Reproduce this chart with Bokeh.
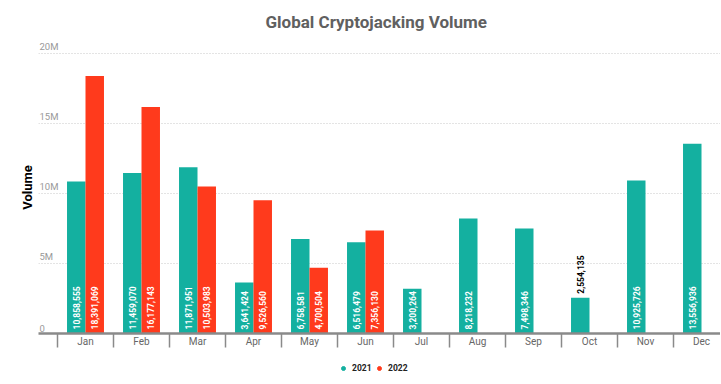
from bokeh.plotting import figure
from bokeh.layouts import column
from bokeh.models import (ColumnDataSource, Range1d, FixedTicker, Legend, LegendItem)
from bokeh.transform import dodge
from bokeh.core.properties import value
from bokeh.embed import file_html
from bokeh.resources import INLINE

months = ["Jan", "Feb", "Mar", "Apr", "May", "Jun", "Jul", "Aug", "Sep", "Oct", "Nov", "Dec"]
vol_2021 = [10858555, 11459070, 11871951, 3641424, 6758581, 6516479,
            3200264, 8218232, 7498346, 2554135, 10925726, 13556936]
vol_2022 = [18391069, 16177143, 10503983, 9526560, 4700504, 7356130]
y_ticks = [0, 5_000_000, 10_000_000, 15_000_000, 20_000_000]
y_tick_labels = ["0", "5M", "10M", "15M", "20M"]

TEAL = "#14B0A0"
RED = "#FF3A1C"
FONT = "Roboto"

idx21 = list(range(len(vol_2021)))
idx22 = list(range(len(vol_2022)))
fmt = lambda v: f"{v:,}"

src21 = ColumnDataSource(dict(x=idx21, v=vol_2021))
src22 = ColumnDataSource(dict(x=idx22, v=vol_2022))

INSIDE_MIN = 3_000_000
in21 = [i for i in idx21 if vol_2021[i] >= INSIDE_MIN]
out21 = [i for i in idx21 if vol_2021[i] < INSIDE_MIN]
lab_in21 = ColumnDataSource(dict(x=in21, y=[0]*len(in21), lab=[fmt(vol_2021[i]) for i in in21]))
lab_out21 = ColumnDataSource(dict(x=out21, y=[vol_2021[i] for i in out21], lab=[fmt(vol_2021[i]) for i in out21]))
lab_in22 = ColumnDataSource(dict(x=idx22, y=[0]*len(idx22), lab=[fmt(v) for v in vol_2022]))

TOTAL_W = 720
frame_left = 38
FW = TOTAL_W - frame_left
px_per_val = 280 / 20_000_000
top_pad_px = 12
FH = 280 + top_pad_px
y_end = 20_000_000 + top_pad_px / px_per_val
cat_px = 56.0
first_cat_left = 57.0
x_start = -0.5 - (first_cat_left - frame_left) / cat_px
x_end = x_start + FW / cat_px

p = figure(frame_width=FW, frame_height=FH, output_backend="svg", toolbar_location=None,
           x_range=Range1d(x_start, x_end), y_range=Range1d(0, y_end),
           min_border_left=frame_left, min_border_right=0, min_border_top=41,
           min_border_bottom=22)
p.outline_line_color = None
p.background_fill_color = "white"
p.border_fill_color = "white"

p.title.text = "Global Cryptojacking Volume"
p.title.align = "left"
p.title.offset = 227
p.title.text_font = FONT
p.title.text_font_size = "17px"
p.title.text_font_style = "bold"
p.title.text_color = "#606060"
p.title.standoff = 19

w = 0.33
p.vbar(x=dodge("x", -w/2), top="v", width=w, source=src21, color=TEAL, line_color=None)
p.vbar(x=dodge("x", w/2), top="v", width=w, source=src22, color=RED, line_color=None)

common = dict(angle=1.5708, text_align="left", text_baseline="middle",
              text_font=value(FONT), text_font_size="8.5px", text_font_style="bold")
p.text(x=dodge("x", -w/2), y="y", text="lab", source=lab_in21, y_offset=-4, text_color="white", **common)
p.text(x=dodge("x", w/2), y="y", text="lab", source=lab_in22, y_offset=-4, text_color="white", **common)
p.text(x=dodge("x", -w/2), y="y", text="lab", source=lab_out21, y_offset=-4, text_color="black", **common)

# y tick labels above gridlines, left-aligned at frame edge
p.text(x=[x_start]*len(y_ticks), y=y_ticks, text=y_tick_labels, x_offset=1, y_offset=-2,
       text_align="left", text_baseline="bottom", text_font=value(FONT),
       text_font_size="9.5px", text_color="#999999")

# y axis (label only)
ya = p.yaxis[0]
ya.ticker = FixedTicker(ticks=y_ticks)
ya.major_label_overrides = {t: "" for t in y_ticks}
ya.major_label_standoff = 0
ya.major_tick_out = 0
ya.major_tick_in = 0
ya.minor_tick_out = 0
ya.minor_tick_in = 0
ya.axis_line_color = None
ya.axis_label = "Volume"
ya.axis_label_standoff = 4
ya.axis_label_text_font = FONT
ya.axis_label_text_font_size = "13px"
ya.axis_label_text_font_style = "bold"
ya.axis_label_text_color = "black"

p.ygrid.grid_line_color = "#c8c8c8"
p.ygrid.grid_line_dash = "1 2"
p.xgrid.grid_line_color = None

xa = p.xaxis[0]
xa.ticker = FixedTicker(ticks=idx21, minor_ticks=[i - 0.5 for i in range(len(months) + 1)])
xa.major_label_overrides = {i: m for i, m in enumerate(months)}
xa.major_tick_out = 0
xa.major_tick_in = 0
xa.minor_tick_out = 14
xa.minor_tick_in = 0
xa.minor_tick_line_color = "#8a8a8a"
xa.minor_tick_line_width = 1.5
xa.axis_line_color = "#8a8a8a"
xa.axis_line_width = 2.5
xa.major_label_standoff = -12
xa.major_label_text_font = FONT
xa.major_label_text_font_size = "10px"
xa.major_label_text_color = "#666666"

# legend figure
lg = figure(width=TOTAL_W, height=22, output_backend="svg", toolbar_location=None,
            x_range=Range1d(0, 1), y_range=Range1d(0, 1), min_border=0)
lg.outline_line_color = None
lg.axis.visible = False
lg.grid.visible = False
r1 = lg.scatter(x=[-5], y=[-5], marker="circle", size=9, color=TEAL)
r2 = lg.scatter(x=[-5], y=[-5], marker="circle", size=9, color=RED)
legend = Legend(items=[LegendItem(label="2021", renderers=[r1]), LegendItem(label="2022", renderers=[r2])],
                orientation="horizontal", location=(300, 4), border_line_color=None,
                label_text_font=FONT, label_text_font_size="8.5px", label_text_font_style="bold",
                label_text_color="#222222", glyph_width=10, glyph_height=10, spacing=2,
                label_standoff=4, padding=2, margin=0, background_fill_alpha=0)
lg.add_layout(legend)

open("out.html", "w").write(file_html(column(p, lg, spacing=0), INLINE))
